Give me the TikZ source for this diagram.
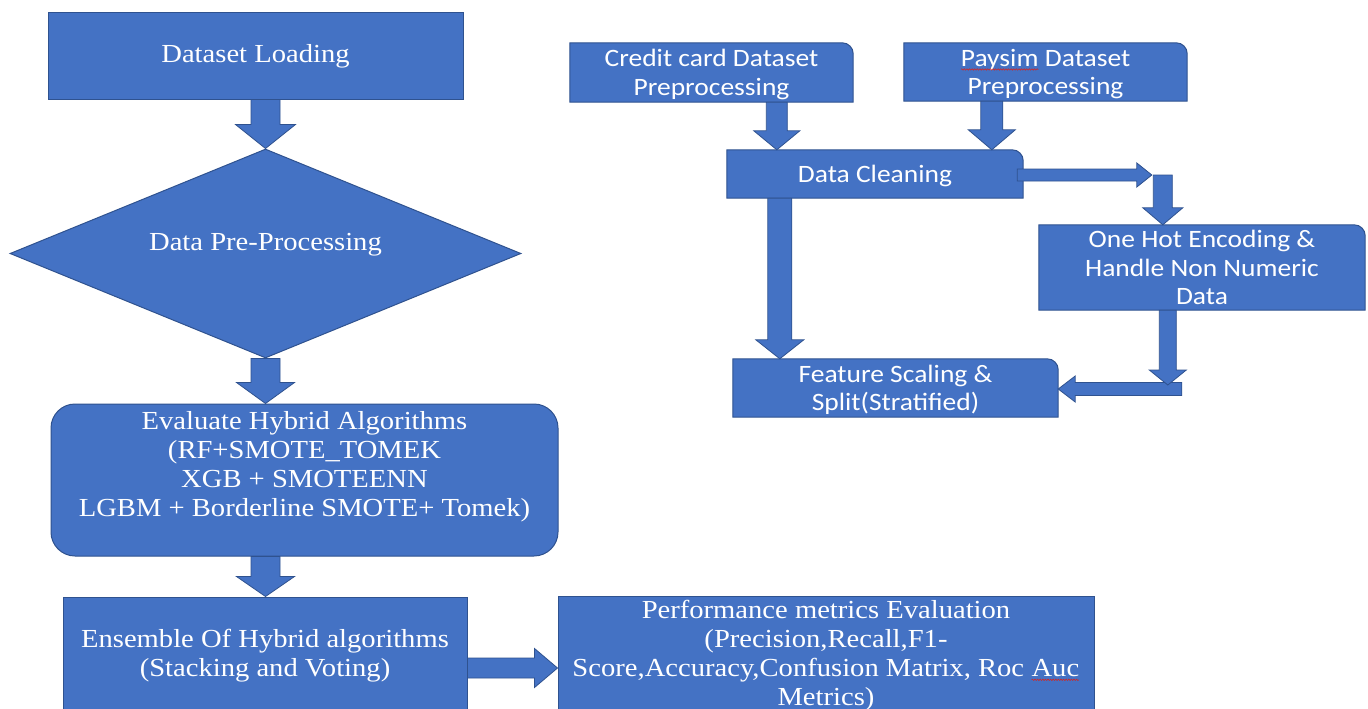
\documentclass[tikz,border=0pt]{standalone}
\usepackage{fontspec}
\newfontfamily\serifw{Liberation Serif}[FakeStretch=1.1]
\newfontfamily\sansw{Carlito}[FakeStretch=1.1]
\usetikzlibrary{calc,shapes.geometric,decorations.pathmorphing}
\definecolor{boxblue}{RGB}{68,114,196}
\definecolor{boxedge}{RGB}{47,82,143}
\definecolor{squiggle}{RGB}{205,40,40}
\pgfdeclarelayer{background}
\pgfsetlayers{background,main}
\newcommand{\rows}[1]{\begin{tabular}{@{}c@{}}#1\end{tabular}}
\newcommand{\shiftrows}[2]{\raisebox{#1}[\height][\depth]{\rows{#2}}}
\newcommand{\spellwave}[1]{\tikz[baseline=(w.base)]{\node[shape=rectangle,draw=none,fill=none,inner sep=0pt,outer sep=0pt,
    minimum width=0pt,minimum height=0pt,rounded corners=0pt] (w) {#1};
  \draw[squiggle,line width=0.6pt,decorate,decoration={snake,amplitude=0.7pt,segment length=2.6pt}]
    ($(w.base west)+(0pt,-3pt)$) -- ($(w.base east)+(0pt,-3pt)$);}}
\newcommand{\blockarrow}[5]{%
  \draw[arrowbody] let \p1=(#1), \p2=(#2),
    \n1={veclen(\x2-\x1,\y2-\y1)}, \n2={(\x2-\x1)/\n1}, \n3={(\y2-\y1)/\n1} in
    ({\x1-#3*(\n3)},{\y1+#3*(\n2)})
    -- ({\x2-#5*(\n2)-#3*(\n3)},{\y2-#5*(\n3)+#3*(\n2)})
    -- ({\x2-#5*(\n2)-#4*(\n3)},{\y2-#5*(\n3)+#4*(\n2)})
    -- (\p2)
    -- ({\x2-#5*(\n2)+#4*(\n3)},{\y2-#5*(\n3)-#4*(\n2)})
    -- ({\x2-#5*(\n2)+#3*(\n3)},{\y2-#5*(\n3)-#3*(\n2)})
    -- ({\x1+#3*(\n3)},{\y1-#3*(\n2)}) -- cycle;}

\begin{document}
\begin{tikzpicture}[x=1pt,y=-1pt]
\tikzset{
  serifbox/.style={draw=boxedge,fill=boxblue,line width=1pt,text=white,align=center,inner sep=0pt,
    font=\serifw\fontsize{26}{29}\selectfont},
  sansbox/.style={text=white,align=center,inner sep=0pt,font=\sansw\fontsize{25}{28.5}\selectfont},
  boxline/.style={draw=boxedge,fill=boxblue,line width=1pt},
  arrowbody/.style={draw=boxedge,fill=boxblue,line width=0.8pt,line join=miter}
}
\useasboundingbox (0,0) rectangle (1368,709);
\clip (0,0) rectangle (1368,709);

\node[serifbox,minimum width=415pt,minimum height=86pt] (ld) at (255.5,56) {Dataset Loading};
\node[serifbox,diamond,aspect=2.445,minimum width=511pt,minimum height=209pt] (pp) at (265.5,253.5)
  {\raisebox{9pt}[\height][\depth]{Data Pre-Processing}};
\node[serifbox,rounded corners=24pt,minimum width=507pt,minimum height=152pt] (ev) at (304.5,480)
  {\shiftrows{13pt}{Evaluate Hybrid Algorithms\\(RF+SMOTE\_TOMEK\\XGB + SMOTEENN\\LGBM + Borderline SMOTE+ Tomek)}};
\node[serifbox,minimum width=404pt,minimum height=115pt] (en) at (265,654.5)
  {\shiftrows{-2pt}{Ensemble Of Hybrid algorithms\\(Stacking and Voting)}};
\node[serifbox,minimum width=536pt,minimum height=115pt] (pf) at (826,654.5)
  {\shiftrows{-2pt}{Performance metrics Evaluation\\(Precision,Recall,F1-\\Score,Accuracy,Confusion Matrix, Roc \spellwave{Auc}\\Metrics)}};

\node[sansbox,minimum width=283pt,minimum height=59pt] (cc) at (711.5,72.5) {\shiftrows{-3pt}{Credit card Dataset\\Preprocessing}};
\node[sansbox,minimum width=283pt,minimum height=58pt] (ps) at (1045.5,72) {\shiftrows{-3pt}{\spellwave{Paysim} Dataset\\Preprocessing}};
\node[sansbox,minimum width=296pt,minimum height=48pt] (dc) at (875,174) {\shiftrows{-3pt}{Data Cleaning}};
\node[sansbox,minimum width=326pt,minimum height=85pt] (oh) at (1202,267.5) {One Hot Encoding \&\\Handle Non Numeric\\Data};
\node[sansbox,minimum width=325pt,minimum height=58pt] (fs) at (895.5,388) {\shiftrows{-3pt}{Feature Scaling \&\\Split(Stratified)}};

\begin{pgfonlayer}{background}
\fill[white] (0,0) rectangle (1368,709);
\foreach \b in {cc,ps,dc,oh,fs}
  \draw[boxline] (\b.south west) -- (\b.north west) [rounded corners=11pt] -- (\b.north east) [sharp corners] -- (\b.south east) -- cycle;
\end{pgfonlayer}

\coordinate (ccout) at ($(cc.south west)+(207,0)$);
\coordinate (psout) at ($(ps.south west)+(88,0)$);
\coordinate (dcout) at ($(dc.south west)+(53,0)$);
\coordinate (ohin) at ($(oh.north west)+(124,0)$);
\coordinate (ohout) at ($(oh.south west)+(129,0)$);

\blockarrow{ld.south -| pp.north}{pp.north}{14.5}{30}{24}
\blockarrow{pp.south}{pp.south |- ev.north}{14.5}{29}{21}
\blockarrow{ev.south -| pp.south}{en.north -| pp.south}{14.5}{29}{20}
\blockarrow{$(en.east)+(0,13.5)$}{$(pf.west)+(0,13.5)$}{10}{19.5}{23}
\blockarrow{ccout}{ccout |- dc.north}{10.5}{23}{19}
\blockarrow{psout}{psout |- dc.north}{11}{23.5}{20}
\blockarrow{$(dc.east)+(-6,1)$}{$(ohin |- dc.east)+(-11,1)$}{6}{12}{15}
\blockarrow{$(ohin |- dc.east)+(0,1)$}{ohin}{9.5}{20}{17}
\blockarrow{$(ohout |- fs.east)+(14,1)$}{$(fs.east)+(0,1)$}{6.5}{13}{17}
\blockarrow{ohout}{$(ohout |- fs.east)+(0,-3)$}{8.5}{18.5}{15}
\blockarrow{dcout}{dcout |- fs.north}{12}{24}{19}
\end{tikzpicture}
\end{document}
